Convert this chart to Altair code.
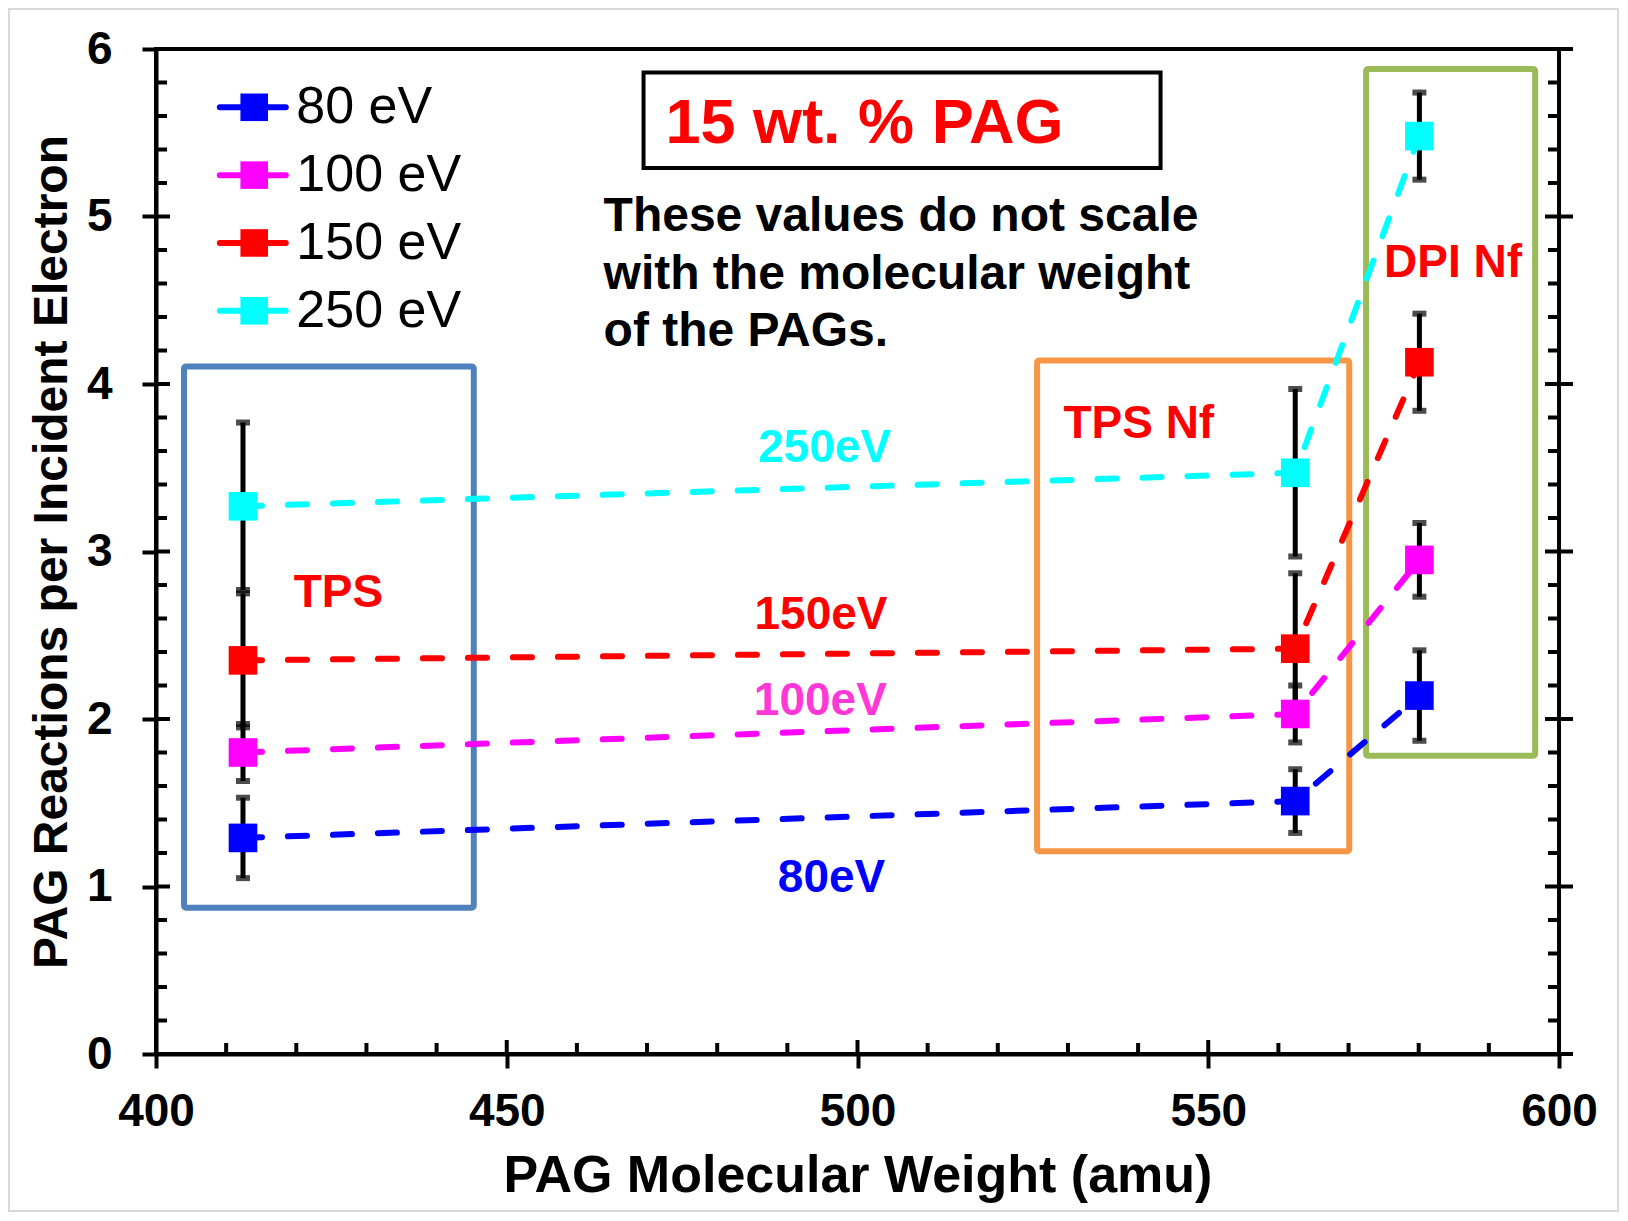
import altair as alt
import pandas as pd

# ---------------- data ----------------
series = ["80 eV", "100 eV", "150 eV", "250 eV"]
series_colors = ["#0000FF", "#FF00FF", "#FF0000", "#00FFFF"]
pag_names = ["TPS", "TPS Nf", "DPI Nf"]
mol_weight = [412.4, 562.4, 580.1]

y_80 = [1.29, 1.51, 2.14]
e_80 = [0.24, 0.19, 0.27]
y_100 = [1.80, 2.03, 2.95]
e_100 = [0.17, 0.17, 0.22]
y_150 = [2.35, 2.42, 4.13]
e_150 = [0.40, 0.45, 0.29]
y_250 = [3.27, 3.47, 5.48]
e_250 = [0.50, 0.50, 0.26]

x_ticks = [400, 450, 500, 550, 600]
y_ticks = [0, 1, 2, 3, 4, 5, 6]
x_minor = [v for v in range(400, 601, 10) if v % 50 != 0]
y_minor = [round(i * 0.2, 1) for i in range(31) if i % 5 != 0]

# series labels inside the plot
curve_labels = ["80eV", "100eV", "150eV", "250eV"]
curve_label_colors = ["#0000FF", "#FF38D6", "#FF0000", "#00FFFF"]
curve_label_x = [496.3, 494.7, 494.8, 495.3]
curve_label_y = [1.05, 2.105, 2.62, 3.62]

# group boxes
box_names = ["TPS", "TPS Nf", "DPI Nf"]
box_x1 = [404.0, 525.6, 572.5]
box_x2 = [445.3, 570.1, 596.6]
box_y1 = [0.873, 1.21, 1.78]
box_y2 = [4.105, 4.14, 5.88]
box_colors = ["#4F81BD", "#F79646", "#9BBB59"]
box_label_x = [426.0, 540.1, 584.9]
box_label_y = [2.75, 3.76, 4.72]

note_lines = ["These values do not scale", "with the molecular weight", "of the PAGs."]
note_y = [4.998, 4.648, 4.308]
note_x = 463.8

FONT = "Liberation Sans"
W, H = 1403, 1005

# ---------------- tables ----------------
rows = []
for s, ys, es in zip(series, [y_80, y_100, y_150, y_250], [e_80, e_100, e_150, e_250]):
    for name, mw, yv, ev in zip(pag_names, mol_weight, ys, es):
        rows.append({"series": s, "pag": name, "mw": mw, "y": yv,
                     "lo": round(yv - ev, 3), "hi": round(yv + ev, 3)})
df = pd.DataFrame(rows)

color = alt.Color("series:N", scale=alt.Scale(domain=series, range=series_colors), legend=None)
xs = alt.Scale(domain=[400, 600], nice=False, zero=False)
ys_ = alt.Scale(domain=[0, 6], nice=False)

X = alt.X("mw:Q", scale=xs, title="PAG Molecular Weight (amu)",
          axis=alt.Axis(values=x_ticks, format="d", grid=False, labelFont=FONT, labelFontSize=46,
                        labelFontWeight="bold", labelColor="black", labelPadding=21, labelFlush=False,
                        labelOverlap=False,
                        titleFont=FONT, titleFontSize=52, titleFontWeight="bold", titleColor="black",
                        titlePadding=16, domainColor="black", domainWidth=4,
                        tickColor="black", tickWidth=4, tickSize=14))
Y = alt.Y("y:Q", scale=ys_, title="PAG Reactions per Incident Electron",
          axis=alt.Axis(values=y_ticks, format="d", grid=False, labelFont=FONT, labelFontSize=46,
                        labelFontWeight="bold", labelColor="black", labelPadding=30, labelFlush=False,
                        titleFont=FONT, titleFontSize=48, titleFontWeight="bold", titleColor="black",
                        titlePadding=10, domainColor="black", domainWidth=4,
                        tickColor="black", tickWidth=4, tickSize=14))

base = alt.Chart(df)

# frame around the figure
frame = alt.Chart(pd.DataFrame({"a": [0]})).mark_rect(
    fillOpacity=0, stroke="#D9D9D9", strokeWidth=2
).encode(x=alt.value(-147), x2=alt.value(W + 59), y=alt.value(-40), y2=alt.value(H + 157))

# group boxes
boxes_df = pd.DataFrame({"name": box_names, "x1": box_x1, "x2": box_x2,
                         "y1": box_y1, "y2": box_y2, "c": box_colors})
boxes = alt.Chart(boxes_df).mark_rect(fillOpacity=0, strokeWidth=6, cornerRadius=2).encode(
    x=alt.X("x1:Q", scale=xs), x2="x2:Q",
    y=alt.Y("y1:Q", scale=ys_), y2="y2:Q",
    stroke=alt.Stroke("c:N", scale=None),
)
box_text = alt.Chart(boxes_df.assign(lx=box_label_x, ly=box_label_y)).mark_text(
    font=FONT, fontSize=46, fontWeight="bold", color="#FF0000", align="center", baseline="middle"
).encode(x=alt.X("lx:Q", scale=xs), y=alt.Y("ly:Q", scale=ys_), text="name:N")

# title box
tb_df = pd.DataFrame({"x1": [469.5], "x2": [543.2], "y1": [5.29], "y2": [5.86],
                      "tx": [501.0], "ty": [5.55], "t": ["15 wt. % PAG"]})
title_box = alt.Chart(tb_df).mark_rect(fill="white", stroke="black", strokeWidth=4).encode(
    x=alt.X("x1:Q", scale=xs), x2="x2:Q", y=alt.Y("y1:Q", scale=ys_), y2="y2:Q")
title_text = alt.Chart(tb_df).mark_text(
    font=FONT, fontSize=63, fontWeight="bold", color="#FF0000", align="center", baseline="middle"
).encode(x=alt.X("tx:Q", scale=xs), y=alt.Y("ty:Q", scale=ys_), text="t:N")

note_df = pd.DataFrame({"t": note_lines, "ny": note_y, "nx": [note_x] * len(note_lines)})
note = alt.Chart(note_df).mark_text(
    font=FONT, fontSize=48, fontWeight="bold", color="black", align="left", baseline="middle"
).encode(x=alt.X("nx:Q", scale=xs), y=alt.Y("ny:Q", scale=ys_), text="t:N")

# error bars
err_rule = base.mark_rule(color="black", strokeWidth=5).encode(
    x=alt.X("mw:Q", scale=xs), y=alt.Y("lo:Q", scale=ys_), y2="hi:Q")
cap_lo = base.mark_tick(color="black", orient="horizontal", size=14, thickness=6).encode(
    x=alt.X("mw:Q", scale=xs), y=alt.Y("lo:Q", scale=ys_))
cap_hi = base.mark_tick(color="black", orient="horizontal", size=14, thickness=6).encode(
    x=alt.X("mw:Q", scale=xs), y=alt.Y("hi:Q", scale=ys_))

lines = base.mark_line(strokeWidth=6, strokeDash=[19, 26], strokeCap="round").encode(
    x=X, y=Y, color=color, detail="series:N", order="mw:Q")
points = base.mark_point(shape="square", filled=True, size=820, opacity=1).encode(
    x=alt.X("mw:Q", scale=xs), y=alt.Y("y:Q", scale=ys_), color=color)

curve_df = pd.DataFrame({"t": curve_labels, "c": curve_label_colors,
                         "lx": curve_label_x, "ly": curve_label_y})
curve_text = alt.Chart(curve_df).mark_text(
    font=FONT, fontSize=46, fontWeight="bold", align="center", baseline="middle"
).encode(x=alt.X("lx:Q", scale=xs), y=alt.Y("ly:Q", scale=ys_), text="t:N",
         color=alt.Color("c:N", scale=None))

# custom legend
leg_top, leg_step = 5.652, 0.405
leg_df = pd.DataFrame({"series": series,
                       "ly": [leg_top - i * leg_step for i in range(len(series))],
                       "x1": [409.1] * 4, "x2": [418.5] * 4, "xm": [414.0] * 4, "xt": [420.0] * 4})
leg_line = alt.Chart(leg_df).mark_rule(strokeWidth=6, strokeCap="round").encode(
    x=alt.X("x1:Q", scale=xs), x2="x2:Q", y=alt.Y("ly:Q", scale=ys_), color=color)
leg_pt = alt.Chart(leg_df).mark_point(shape="square", filled=True, size=760, opacity=1).encode(
    x=alt.X("xm:Q", scale=xs), y=alt.Y("ly:Q", scale=ys_), color=color)
leg_txt = alt.Chart(leg_df).mark_text(
    font=FONT, fontSize=52, color="black", align="left", baseline="middle"
).encode(x=alt.X("xt:Q", scale=xs), y=alt.Y("ly:Q", scale=ys_), text="series:N")

# extra tick marks (inner parts, right axis)
ymaj = pd.DataFrame({"v": y_ticks})
ymin = pd.DataFrame({"v": y_minor})
xmaj = pd.DataFrame({"v": x_ticks})
xmin = pd.DataFrame({"v": x_minor})
tk = dict(color="black", strokeWidth=4)
t1 = alt.Chart(ymaj).mark_rule(**tk).encode(y=alt.Y("v:Q", scale=ys_), x=alt.value(0), x2=alt.value(14))
t2 = alt.Chart(ymin).mark_rule(**tk).encode(y=alt.Y("v:Q", scale=ys_), x=alt.value(0), x2=alt.value(11))
t3 = alt.Chart(ymaj).mark_rule(**tk).encode(y=alt.Y("v:Q", scale=ys_), x=alt.value(W - 14), x2=alt.value(W + 14))
t4 = alt.Chart(ymin).mark_rule(**tk).encode(y=alt.Y("v:Q", scale=ys_), x=alt.value(W - 11), x2=alt.value(W))
t5 = alt.Chart(xmaj).mark_rule(**tk).encode(x=alt.X("v:Q", scale=xs), y=alt.value(H - 14), y2=alt.value(H))
t6 = alt.Chart(xmin).mark_rule(**tk).encode(x=alt.X("v:Q", scale=xs), y=alt.value(H - 11), y2=alt.value(H))

chart = alt.layer(
    frame, boxes, err_rule, cap_lo, cap_hi, lines, points, title_box, title_text, note,
    box_text, curve_text, leg_line, leg_pt, leg_txt, t1, t2, t3, t4, t5, t6
).properties(
    width=W, height=H,
    padding={"left": 148, "top": 41, "right": 61, "bottom": 159},
    autosize=alt.AutoSizeParams(type="none"),
    background="white",
).configure_view(stroke="black", strokeWidth=4)

chart.save("out.html", embed_options={"renderer": "svg", "actions": False})
